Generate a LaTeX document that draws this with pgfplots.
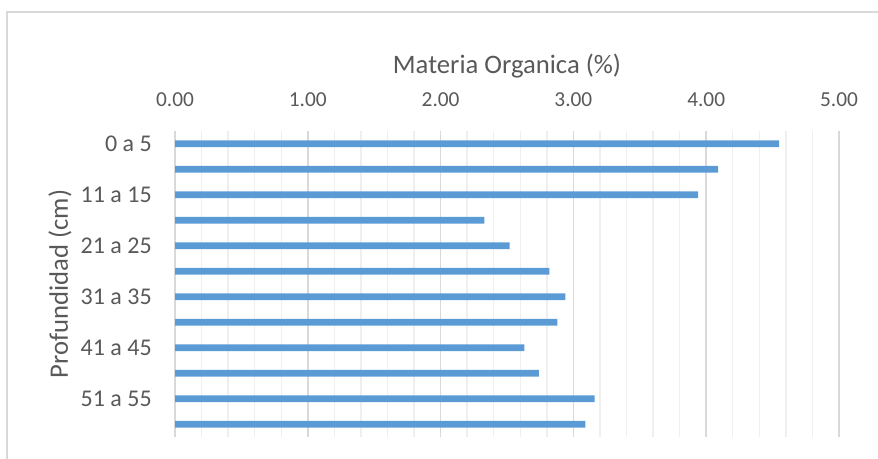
\documentclass[border=0pt]{standalone}
\usepackage{pgfplots}
\pgfplotsset{compat=1.18}
\usepackage{fontspec}
\setmainfont{Carlito}
\definecolor{barblue}{HTML}{5B9BD5}
\definecolor{txtgray}{HTML}{595959}
\definecolor{gridmaj}{HTML}{D9D9D9}
\definecolor{gridmin}{HTML}{EFEFEF}
\definecolor{framegray}{HTML}{D9D9D9}
\begin{document}
\begin{tikzpicture}[x=0.75pt,y=0.75pt]
\path[use as bounding box] (0,0) rectangle (878,458);
\begin{scope}
\clip (0,0) rectangle (878,458);
\draw[framegray, line width=1.1pt] (7,-10) -- (7,446) -- (900,446);
\end{scope}
\begin{axis}[
  at={(131.25pt,15.75pt)}, anchor=south west, scale only axis,
  width=498pt, height=229.5pt,
  xmin=0, xmax=5, ymin=-0.5, ymax=11.5, y dir=reverse,
  axis line style={draw=none},
  major tick length=0pt, minor tick length=0pt,
  xtick={0,1,2,3,4,5}, minor x tick num=4,
  xmajorgrids, xminorgrids,
  major grid style={gridmaj, line width=1.1pt},
  minor grid style={gridmin, line width=1.1pt},
  xticklabel pos=top,
  /pgf/number format/.cd, fixed, fixed zerofill, precision=2, assume math mode=true,
  /pgfplots/.cd,
  xticklabel style={anchor=center, yshift=23.25pt, font=\fontsize{16}{18}\selectfont, text=txtgray},
  ytick={0,2,4,6,8,10},
  yticklabels={0 a 5, 11 a 15, 21 a 25, 31 a 35, 41 a 45, 51 a 55},
  yticklabel style={anchor=east, inner sep=0pt, xshift=-17.25pt, font=\fontsize{18}{20}\selectfont, text=txtgray},
  xlabel={Materia Organica (\%)},
  xlabel style={at={(axis description cs:0.5,1.2124)}, anchor=center, font=\fontsize{20}{22}\selectfont, text=txtgray},
  ylabel={Profundidad (cm)},
  ylabel style={at={(axis description cs:-0.1732,0.5)}, anchor=center, font=\fontsize{20}{22}\selectfont, text=txtgray},
]
\addplot[xbar, bar width=4.9pt, fill=barblue, draw=none] coordinates {
  (4.55,0) (4.09,1) (3.94,2) (2.33,3) (2.52,4) (2.82,5)
  (2.94,6) (2.88,7) (2.63,8) (2.74,9) (3.16,10) (3.09,11)
};
\end{axis}
\end{tikzpicture}
\end{document}
